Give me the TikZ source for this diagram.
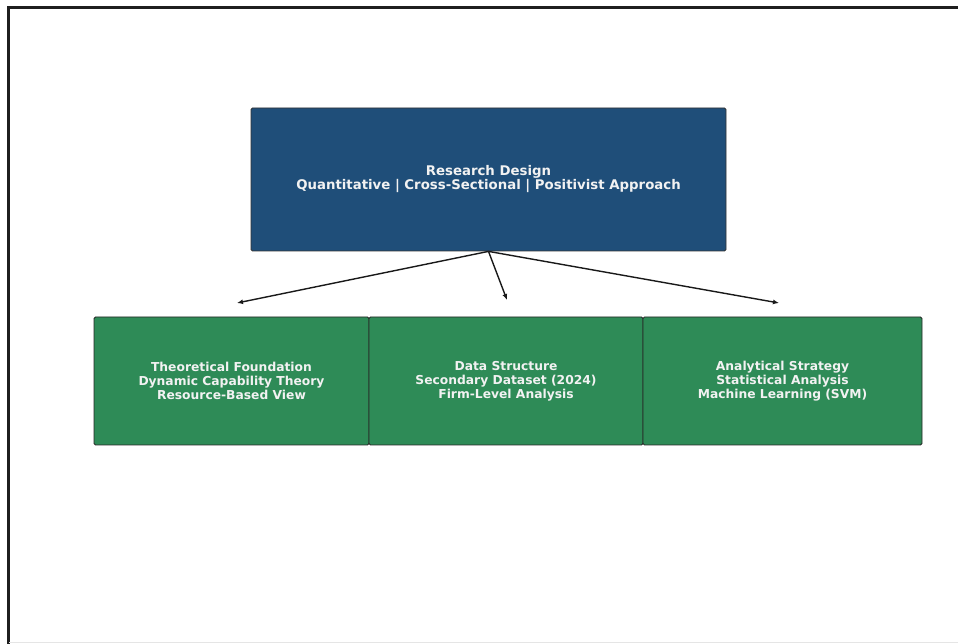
\documentclass[tikz,border=0pt]{standalone}
\usepackage{fontspec}
\setmainfont{DejaVu Sans}
\usetikzlibrary{arrows.meta}
\definecolor{designblue}{RGB}{31,78,121}
\definecolor{partgreen}{RGB}{46,139,87}

\begin{document}
\begin{tikzpicture}[x=1pt,y=1pt,
  designbox/.style={draw=black!80,line width=0.8pt,fill=designblue,rounded corners=1.5pt,inner sep=0pt,
    minimum width=475pt,minimum height=143pt,align=center,text=white!95!black,
    font=\fontsize{13.3}{14}\selectfont\bfseries},
  partbox/.style={draw=black!85,line width=0.8pt,fill=partgreen,rounded corners=1.5pt,inner sep=0pt,
    minimum height=128pt,align=center,text=white!95!black,
    font=\fontsize{12.3}{14}\selectfont\bfseries},
  linkarrow/.style={-{Latex[length=6pt,width=5pt]},line width=1.4pt,black!90}]
\path[use as bounding box] (0,0) rectangle (958,644);
\draw[black!88,line width=3pt] (8,0) -- (8,636) -- (958,636);
\draw[black!10,line width=1pt] (9,1) -- (958,1);
\node[designbox] (design) at (488.5,464.5) {Research Design\\Quantitative | Cross-Sectional | Positivist Approach};
\node[partbox,minimum width=275pt] (theory) at (231.5,263) {Theoretical Foundation\\Dynamic Capability Theory\\Resource-Based View};
\node[partbox,minimum width=274pt] (data) at (506,263) {Data Structure\\Secondary Dataset (2024)\\Firm-Level Analysis};
\node[partbox,minimum width=279pt] (analysis) at (782.5,263) {Analytical Strategy\\Statistical Analysis\\Machine Learning (SVM)};
\coordinate (theorytip) at (237,341);
\coordinate (datatip) at (507,344);
\coordinate (analysistip) at (779,341);
\draw[linkarrow] (design.south) -- (theorytip);
\draw[linkarrow] (design.south) -- (datatip);
\draw[linkarrow] (design.south) -- (analysistip);
\end{tikzpicture}
\end{document}
